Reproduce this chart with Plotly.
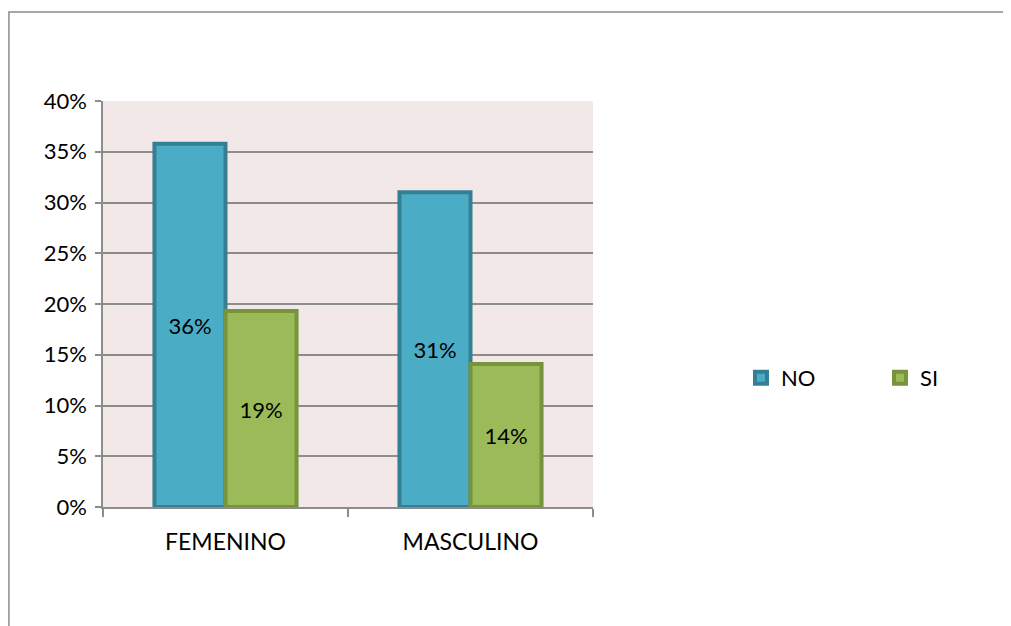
import plotly.graph_objects as go

categories = ['FEMENINO', 'MASCULINO']
no_values = [0.358, 0.310]
si_values = [0.193, 0.141]

fig = go.Figure()
fig.add_trace(go.Bar(
    x=categories, y=no_values, name='NO',
    marker=dict(color='#4BACC6', line=dict(color='#357F93', width=4)),
    texttemplate='%{y:.0%}', textposition='inside', insidetextanchor='middle',
    textfont=dict(size=22, color='black'), textangle=0,
))
fig.add_trace(go.Bar(
    x=categories, y=si_values, name='SI',
    marker=dict(color='#9BBB59', line=dict(color='#77933C', width=4)),
    texttemplate='%{y:.0%}', textposition='inside', insidetextanchor='middle',
    textfont=dict(size=22, color='black'), textangle=0,
))

# the page body adds an 8px offset, so the figure is shrunk and margins shifted back
fig.update_layout(
    width=1003, height=618,
    margin=dict(l=95, r=418, t=93, b=119, autoexpand=False),
    paper_bgcolor='white', plot_bgcolor='#F2E8E8',
    font=dict(family='Lato, Calibri, sans-serif', size=22, color='black'),
    barmode='group', bargap=0.42, bargroupgap=0,
    legend=dict(orientation='h', x=1.302, xanchor='left', y=0.318, yanchor='middle',
                font=dict(size=22), entrywidth=94, traceorder='normal',
                bgcolor='rgba(0,0,0,0)'),
    uniformtext=dict(mode=False),
)
fig.update_yaxes(range=[0, 0.4], dtick=0.05, tickformat='.0%',
                 showgrid=True, gridcolor='#8C8C8C', gridwidth=1.5,
                 showline=True, linecolor='#8C8C8C', linewidth=1.5,
                 ticks='outside', ticklen=6, tickcolor='#8C8C8C', tickwidth=1.5,
                 zeroline=False, ticklabelstandoff=4)
fig.update_xaxes(showline=True, linecolor='#8C8C8C', linewidth=2,
                 ticks='outside', tickson='boundaries', ticklen=8,
                 tickcolor='#8C8C8C', tickwidth=1.5, showgrid=False,
                 ticklabelstandoff=13, tickfont=dict(size=23))

fig.add_shape(type='rect', xref='paper', yref='paper',
              x0=-0.192, x1=1.9, y0=-0.31, y1=1.219,
              line=dict(color='#8C8C8C', width=1.5), fillcolor='rgba(0,0,0,0)',
              layer='below')

fig.write_html('out.html')
